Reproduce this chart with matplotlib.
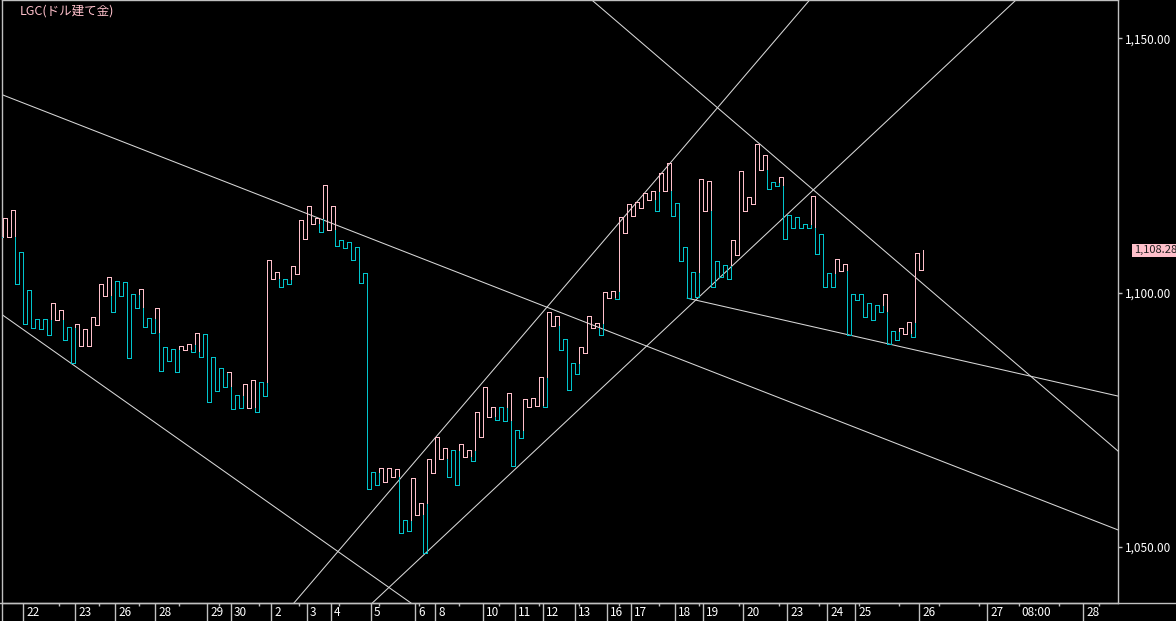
import matplotlib
matplotlib.use("Agg")
import matplotlib.pyplot as plt
import matplotlib.transforms as mtransforms
from matplotlib.collections import LineCollection
from matplotlib.lines import Line2D

# LGC gold (USD) - step chart, one level per slot (alternating highs / lows)
start_price = 1106.9
levels = [
    1111.0, 1114.7, 1111.0, 1116.2, 1101.6, 1107.9, 1093.8, 1100.6, 1093.1, 1094.9,
    1092.8, 1094.9, 1091.7, 1097.9, 1094.6, 1096.5, 1090.6, 1093.3, 1086.2, 1093.9,
    1089.5, 1092.8, 1089.5, 1095.3, 1093.7, 1101.6, 1099.4, 1103.0, 1096.2, 1102.2,
    1099.4, 1102.0, 1087.1, 1099.7, 1096.9, 1100.8, 1093.2, 1095.0, 1092.1, 1096.9,
    1084.6, 1089.4, 1086.6, 1088.9, 1084.3, 1089.6, 1088.7, 1089.9, 1088.3, 1092.0,
    1087.3, 1091.8, 1078.5, 1087.3, 1080.6, 1085.1, 1081.4, 1084.3, 1077.1, 1079.9,
    1077.3, 1082.0, 1077.3, 1082.8, 1076.5, 1082.4, 1079.7, 1106.4, 1102.6, 1104.0,
    1101.1, 1102.6, 1101.6, 1105.2, 1103.7, 1114.2, 1110.5, 1117.0, 1113.4, 1114.7,
    1111.9, 1121.1, 1112.3, 1117.0, 1109.1, 1110.3, 1108.7, 1110.0, 1106.4, 1109.0,
    1101.8, 1103.8, 1061.4, 1064.7, 1062.2, 1065.5, 1062.7, 1065.6, 1063.8, 1065.3,
    1052.7, 1055.3, 1053.2, 1063.5, 1056.3, 1058.6, 1048.8, 1067.3, 1064.6, 1071.6,
    1067.3, 1069.4, 1063.7, 1069.0, 1062.2, 1070.2, 1067.6, 1069.0, 1066.9, 1076.5,
    1071.7, 1081.4, 1075.5, 1077.6, 1074.9, 1077.6, 1074.8, 1080.2, 1065.9, 1072.9,
    1071.4, 1079.0, 1077.5, 1079.2, 1077.7, 1083.5, 1077.5, 1096.1, 1093.5, 1095.4,
    1088.7, 1090.8, 1080.9, 1086.2, 1084.0, 1089.3, 1088.1, 1095.4, 1093.0, 1094.1,
    1091.7, 1100.2, 1098.9, 1100.4, 1098.7, 1114.8, 1111.7, 1117.4, 1115.1, 1117.8,
    1116.6, 1119.5, 1118.1, 1119.9, 1116.1, 1123.6, 1119.9, 1125.4, 1115.1, 1117.6,
    1106.2, 1109.0, 1098.9, 1104.0, 1099.2, 1122.3, 1116.1, 1122.0, 1101.1, 1106.3,
    1103.0, 1105.5, 1102.6, 1110.4, 1107.3, 1123.8, 1116.1, 1118.7, 1117.4, 1129.2,
    1124.0, 1127.1, 1120.3, 1121.8, 1121.0, 1122.8, 1110.6, 1115.2, 1112.7, 1114.9,
    1112.7, 1113.4, 1112.7, 1119.0, 1107.5, 1111.5, 1101.1, 1103.9, 1101.1, 1106.6,
    1104.3, 1105.7, 1091.7, 1099.7, 1098.6, 1099.7, 1095.3, 1097.9, 1094.6, 1097.5,
    1096.1, 1099.7, 1089.9, 1092.5, 1090.6, 1093.1, 1091.8, 1094.3, 1091.2, 1107.7,
    1104.5, 1108.3,
]
# p = up (pink), c = down (cyan)
moves = ("cpppcccccc" "cccpppcccp" "ppppppppcc" "cccccpcccp" "cccccpppcp"
         "cccccccpcc" "cpppcccppp" "cccppppppp" "cpppcccccc" "cccccppppp"
         "cccpppcppp" "ppcccpppcp" "ppppcccpcc" "cpppppcppp" "cccccppppp"
         "cpppcppppp" "ppppcpppcc" "cccccpppcc" "cccppppppp" "ppcccpcccc"
         "cccpcccccp" "ppcccccccc" "cpcccpppcp" "pp")
last_price = 1108.28

# day separators (slot index) and labels
day_pos = [6, 19, 29, 39, 52, 58, 68, 77, 83, 93, 104, 109, 121, 129, 136, 144,
           152, 158, 169, 176, 186, 197, 207, 214, 230, 247, 271]
day_labels = ["22", "23", "26", "28", "29", "30", "2", "3", "4", "5", "6", "8",
              "10", "11", "12", "13", "16", "17", "18", "19", "20", "23", "24",
              "25", "26", "27", "28"]
time_pos = 255
time_label = "08:00"
minor_pos = list(range(15, 280, 10))

# trend lines: (slot, price) pairs
trend_full = [
    ((0.17, 1139.05), (279.67, 1053.36)),
    ((0.17, 1095.95), (64.34, 1060.38)),
    ((91.42, 1055.33), (172.67, 1130.01)),
    ((104.74, 1047.46), (216.84, 1130.01)),
    ((188.92, 1130.01), (232.67, 1100.53)),
]
trend_ray = ((172.0, 1098.9), (228.09, 1088.88))

price_ticks = [1050, 1100, 1150]

plt.rcParams["font.family"] = ["Noto Sans CJK JP", "DejaVu Sans"]

PINK = "#ffc0cb"
CYAN = "#00c4cc"
GREY = "#c0c0c0"
col = {"p": PINK, "c": CYAN}

fig = plt.figure(figsize=(11.76, 6.21), dpi=100, facecolor="black")
ax = fig.add_axes([2 / 1176, 18 / 621, 1116 / 1176, 603 / 621])
ax.set_facecolor("black")

segs, colors = [], []
segs.append([(0, start_price), (0, levels[0])])
colors.append(PINK)
for k in range(len(levels)):
    b = levels[k]
    if k > 0:
        a = levels[k - 1]
        before = levels[k - 2] if k > 1 else start_price
        lo, hi = min(before, a), max(before, a)
        mid = min(max(b, lo), hi)
        if mid != a:
            segs.append([(k, a), (k, mid)])
            colors.append(col[moves[k - 1]])
        if mid != b:
            segs.append([(k, mid), (k, b)])
            colors.append(col[moves[k]])
    if k < len(levels) - 1:
        segs.append([(k, b), (k + 1, b)])
        colors.append(col[moves[k]])

lc = LineCollection(segs, colors=colors, linewidths=0.72, antialiaseds=False, zorder=3)
ax.add_collection(lc)

for p1, p2 in trend_full:
    ax.axline(p1, p2, color="#d8d8d8", lw=0.75, zorder=2)
(x1, y1), (x2, y2) = trend_ray
x_end = 290
ax.plot([x1, x_end], [y1, y1 + (y2 - y1) / (x2 - x1) * (x_end - x1)],
        color="#d8d8d8", lw=0.75, zorder=2)

ax.set_xlim(0.67, 279.67)
ax.set_ylim(1039.0, 1157.5)

for s in ax.spines.values():
    s.set_color(GREY)
    s.set_linewidth(1)

# price axis on the right
ax.yaxis.tick_right()
ax.set_yticks(price_ticks)
ax.set_yticklabels([f"{v:,.2f}" for v in price_ticks])
ax.tick_params(axis="y", colors=GREY, labelcolor="white", length=3, width=1,
               direction="out", pad=2, labelsize=8.5)

# time axis: separators, minor ticks and labels
ax.set_xticks(day_pos)
ax.set_xticklabels([])
ax.set_xticks(minor_pos, minor=True)
ax.tick_params(axis="x", which="major", colors=GREY, length=13.3, width=1, direction="out")
ax.tick_params(axis="x", which="minor", colors=GREY, length=2.5, width=1, direction="out")

trans = mtransforms.blended_transform_factory(ax.transData, ax.transAxes)
for pos, lab in zip(day_pos, day_labels):
    ax.text(pos + 0.7, -0.016, lab, transform=trans, color="white", fontsize=8.5,
            ha="left", va="center", clip_on=False)
ax.text(time_pos + 0.5, -0.016, time_label, transform=trans, color="white",
        fontsize=8.5, ha="left", va="center", clip_on=False)

fig.add_artist(Line2D([0, 1], [18 / 621, 18 / 621], transform=fig.transFigure,
                      color=GREY, lw=1))
fig.add_artist(Line2D([2 / 1176, 2 / 1176], [0, 18 / 621], transform=fig.transFigure,
                      color=GREY, lw=1))

# last price box
ptrans = mtransforms.blended_transform_factory(ax.transAxes, ax.transData)
ax.text(1.0 + 16 / 1116, last_price, f"{last_price:,.2f}", transform=ptrans,
        color="#202020", fontsize=8, ha="left", va="center", clip_on=False,
        bbox=dict(boxstyle="square,pad=0.15", fc=PINK, ec="none"))

ax.text(18 / 1116, 1 - 11 / 603, "LGC(ドル建て金)", transform=ax.transAxes,
        color=PINK, fontsize=9, ha="left", va="center")

fig.savefig("out.png", dpi=100, facecolor="black")
